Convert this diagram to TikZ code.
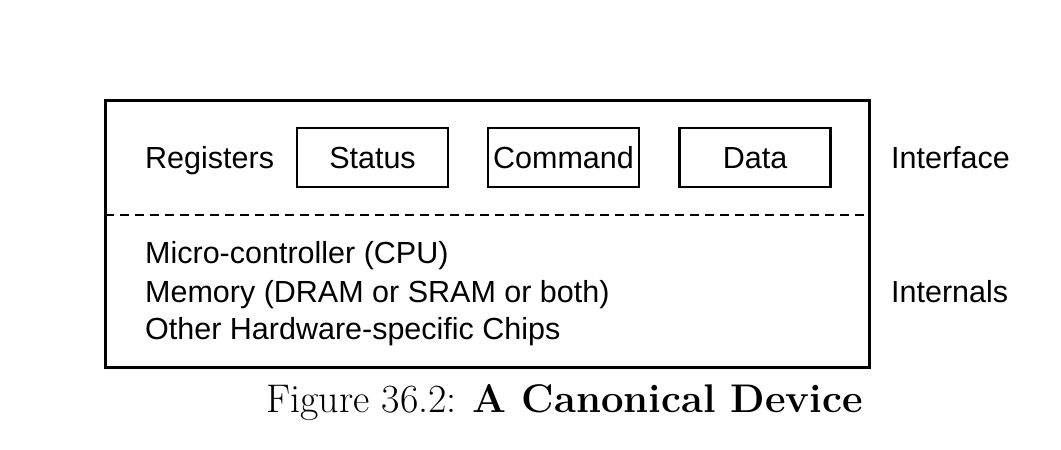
\documentclass[tikz,border=0pt]{standalone}
\usepackage{fontspec}
\setsansfont{Liberation Sans}
\begin{document}
\begin{tikzpicture}[x=1pt,y=-1pt,
  lbl/.style={font=\sffamily\fontsize{30.5}{36}\selectfont, inner sep=0pt},
  regbox/.style={draw, line width=2.6pt, minimum width=151pt, minimum height=59pt, inner sep=0pt},
  outer/.style={draw, line width=2.8pt},
  sep/.style={line width=1.4pt, dash pattern=on 9pt off 6pt}]
\useasboundingbox (0,0) rectangle (1061,450);
\node[outer, minimum width=764pt, minimum height=267pt, inner sep=0pt] (dev) at (487.5,234) {};
\node[regbox] (status) at (372.5,157.5) {};
\node[regbox] (command) at (563.5,157.5) {};
\node[regbox] (data) at (755,157.5) {};
\node[lbl, anchor=base] (statust) at (372.5,168) {Status};
\node[lbl, anchor=base] (commandt) at (563.5,168) {Command};
\node[lbl, anchor=base] (datat) at (755,168) {Data};
\node[lbl, anchor=base west] (reg) at (145,168) {Registers};
\coordinate (dl) at (105,215);
\coordinate (dr) at (870,215);
\draw[sep] (dl) -- (dr);
\node[lbl, anchor=base west] (l1) at (145,263) {Micro-controller (CPU)};
\node[lbl, anchor=base west] (l2) at (145,302) {Memory (DRAM or SRAM or both)};
\node[lbl, anchor=base west] (l3) at (145,339) {Other Hardware-specific Chips};
\node[lbl, anchor=base west] (iface) at (891,168) {Interface};
\node[lbl, anchor=base west] (intl) at (891,302) {Internals};
\node[inner sep=0pt, anchor=base, font=\fontsize{40}{46}\selectfont] (cap) at (564.5,412) {Figure 36.2: \textbf{A Canonical Device}};
\end{tikzpicture}
\end{document}
